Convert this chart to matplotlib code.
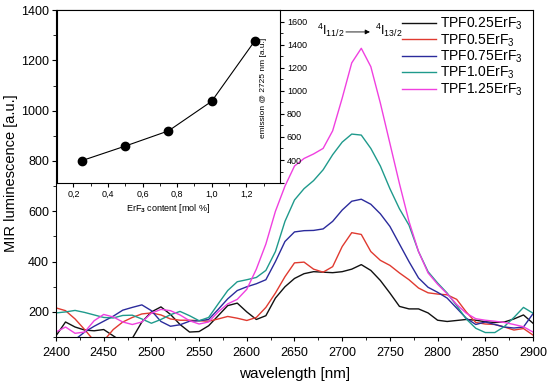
import matplotlib
matplotlib.use("Agg")
import matplotlib.pyplot as plt
from matplotlib.ticker import MultipleLocator, FuncFormatter

plt.rcParams['font.family'] = ['Liberation Sans', 'DejaVu Sans']
plt.rcParams['mathtext.fontset'] = 'custom'
plt.rcParams['mathtext.rm'] = 'Liberation Sans'
plt.rcParams['mathtext.it'] = 'Liberation Sans'
plt.rcParams['mathtext.bf'] = 'Liberation Sans:bold'

wavelength = list(range(2400, 2901, 10))

tpf025 = [105, 160, 140, 128, 125, 130, 105, 80, 95, 160,
          200, 220, 190, 150, 120, 122, 145, 185, 225, 235,
          200, 170, 185, 255, 300, 333, 352, 360, 358, 356,
          360, 370, 388, 365, 325, 275, 222, 212, 212, 196,
          167, 162, 166, 170, 167, 161, 158, 160, 172, 188, 155]

tpf05 = [216, 205, 172, 130, 85, 85, 130, 160, 178, 192,
         196, 188, 172, 167, 167, 165, 163, 172, 182, 175,
         166, 178, 218, 275, 340, 395, 398, 370, 358, 380,
         460, 515, 508, 440, 405, 385, 355, 328, 295, 276,
         271, 268, 250, 200, 158, 152, 150, 140, 128, 134, 108]

tpf075 = [60, 70, 90, 120, 143, 163, 183, 207, 218, 228,
          205, 162, 143, 149, 163, 165, 170, 210, 252, 285,
          300, 312, 328, 400, 480, 518, 523, 524, 530, 560,
          605, 640, 648, 628, 590, 540, 470, 400, 335, 298,
          278, 255, 215, 175, 150, 160, 150, 140, 136, 140, 193]

tpf10 = [196, 200, 206, 198, 188, 178, 176, 186, 187, 172,
         155, 170, 189, 202, 185, 165, 178, 232, 285, 320,
         328, 337, 365, 440, 560, 645, 690, 722, 765, 825,
         875, 907, 903, 850, 780, 690, 610, 545, 440, 360,
         315, 275, 225, 172, 135, 118, 118, 142, 178, 218, 195]

tpf125 = [120, 140, 115, 120, 165, 190, 180, 160, 150, 160,
          195, 210, 205, 188, 165, 152, 160, 200, 232, 250,
          290, 370, 470, 600, 700, 780, 810, 828, 850, 920,
          1050, 1190, 1248, 1175, 1030, 870, 710, 560, 440, 355,
          310, 272, 230, 195, 173, 167, 163, 158, 150, 141, 120]

series = [tpf025, tpf05, tpf075, tpf10, tpf125]
labels = ['TPF0.25ErF$_3$', 'TPF0.5ErF$_3$', 'TPF0.75ErF$_3$',
          'TPF1.0ErF$_3$', 'TPF1.25ErF$_3$']
colors = ['#111111', '#e03a30', '#2b2b9c', '#1f9a8c', '#f040e0']

content = [0.25, 0.5, 0.75, 1.0, 1.25]
emission = [395, 521, 653, 910, 1436]

fig = plt.figure(figsize=(5.5, 3.87), dpi=100)
ax = fig.add_axes([0.1018, 0.129, 0.8673, 0.845])

for y, lab, c in zip(series, labels, colors):
    ax.plot(wavelength, y, color=c, lw=1.0, label=lab)

ax.set_xlim(2400, 2900)
ax.set_ylim(100, 1400)
ax.xaxis.set_major_locator(MultipleLocator(50))
ax.xaxis.set_minor_locator(MultipleLocator(25))
ax.yaxis.set_major_locator(MultipleLocator(200))
ax.yaxis.set_minor_locator(MultipleLocator(100))
ax.tick_params(which='both', direction='out', labelsize=9)
ax.tick_params(axis='y', pad=2)
ax.tick_params(axis='x', pad=4)
ax.tick_params(which='major', length=3)
ax.tick_params(which='minor', length=2)
ax.set_xlabel('wavelength [nm]', fontsize=11, labelpad=6)
ax.set_ylabel('MIR luminescence [a.u.]', fontsize=10.5, labelpad=2)

leg = ax.legend(loc='upper right', bbox_to_anchor=(0.995, 1.008), frameon=False,
                fontsize=10, handlelength=2.4, handletextpad=0.3,
                labelspacing=0.0, borderaxespad=0.2)

ax.text(2674, 1320, '$^4$I$_{11/2}$', fontsize=9, ha='left', va='center')
ax.text(2734, 1320, '$^4$I$_{13/2}$', fontsize=9, ha='left', va='center')
ax.annotate('', xy=(2732, 1313), xytext=(2701, 1313),
            arrowprops=dict(arrowstyle='-|>', color='black', lw=0.6,
                            mutation_scale=7))

# inset
axi = fig.add_axes([0.1036, 0.527, 0.4055, 0.4465])
axi.plot(content, emission, color='black', lw=0.8, marker='o',
         markersize=6, markerfacecolor='black', markeredgecolor='black')
axi.set_xlim(0.105, 1.395)
axi.set_ylim(200, 1700)
axi.xaxis.set_major_locator(MultipleLocator(0.2))
axi.xaxis.set_minor_locator(MultipleLocator(0.1))
axi.yaxis.set_major_locator(MultipleLocator(200))
axi.yaxis.set_minor_locator(MultipleLocator(100))
axi.yaxis.tick_right()
axi.tick_params(which='both', direction='out', labelsize=6.5, pad=2)
axi.tick_params(which='major', length=3)
axi.tick_params(which='minor', length=1.8)
axi.xaxis.set_major_formatter(FuncFormatter(lambda v, p: f'{v:.1f}'.replace('.', ',')))
axi.yaxis.set_major_formatter(FuncFormatter(lambda v, p: f'{v:.0f}' if v >= 400 else ''))
axi.set_xlabel('ErF$_\\mathbf{3}$ content [mol %]', fontsize=6.5, labelpad=2)
axi.text(0.925, 0.55, 'emission @ 2725 nm [a.u.]', transform=axi.transAxes,
         rotation=90, fontsize=6, ha='center', va='center')

fig.savefig('out.png', dpi=100)
